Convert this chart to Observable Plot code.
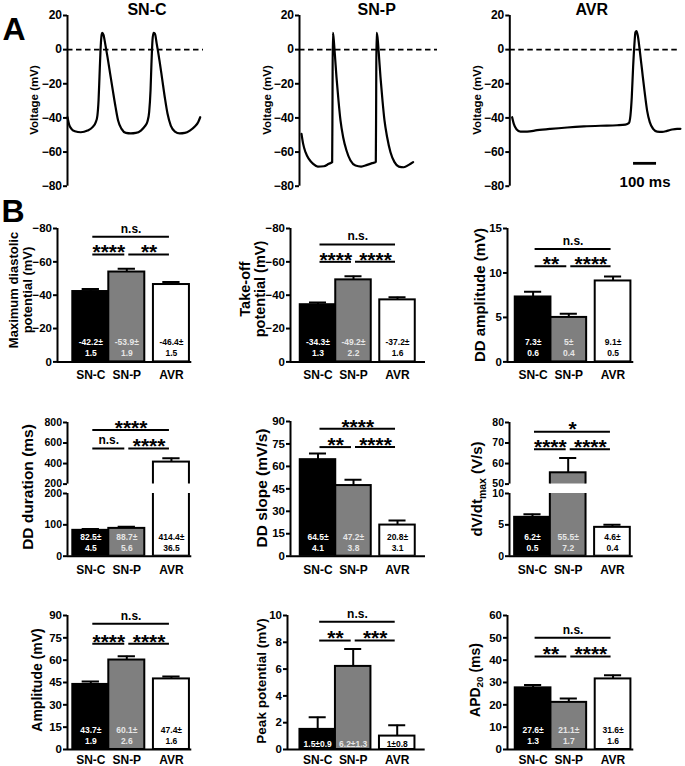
<!DOCTYPE html>
<html><head><meta charset="utf-8">
<script src="https://cdn.jsdelivr.net/npm/d3@7"></script>
<script src="https://cdn.jsdelivr.net/npm/@observablehq/plot@0.6"></script>
<style>
html,body{margin:0;padding:0;background:#fff;}
#fig{position:relative;width:685px;height:766px;overflow:hidden;background:#fff;font-family:"Liberation Sans",Arial,Helvetica,sans-serif;font-weight:bold;color:#000;}
#fig svg{position:absolute;overflow:visible;background:transparent;}
.t{position:absolute;white-space:nowrap;text-align:center;transform:translate(-50%,-50%);}
.v{position:absolute;white-space:nowrap;text-align:center;transform:translate(-50%,-50%) rotate(-90deg);}
sub{font-size:70%;vertical-align:-0.3em;line-height:0;}
</style></head><body><div id="fig"></div>
<script>
// ---------------- data ----------------
const groups = ["SN-C", "SN-P", "AVR"];
const groupFill = ["#000000", "#7f7f7f", "#ffffff"];
const groupTextColor = ["#ffffff", "#e6e6e6", "#000000"];

// Panel A: action potential traces, [time (ms), voltage (mV)]
const traceSNC = [[0,-39.6],[7,-43.9],[17,-46.4],[32,-47.8],[58,-48.4],[87,-47.4],[109,-45.4],[123,-42.5],[130,-38.6],[135,-29.8],[139,-16.1],[143.5,-0.5],[148,8.3],[151,9.8],[156.5,8.7],[164,3.4],[174,-4.4],[185.5,-14.2],[197,-23.9],[209,-33.7],[220,-41.5],[235,-46.4],[254,-48.8],[275,-49.1],[297,-48.8],[319,-47.4],[336,-45],[348,-41.9],[355,-36.6],[361,-23.9],[365,-8.3],[369.5,5.4],[374,9.8],[380,9.3],[388,3.4],[400,-6.4],[411.5,-17.1],[423,-27.9],[435,-37.6],[449,-44.5],[467,-48],[488,-49.1],[510,-48.8],[532,-47.4],[553.5,-45],[568,-42.5],[577,-39.6]];
const traceSNP = [[8.7,-49.3],[15.9,-55.2],[26.1,-60.1],[40.6,-64],[59.4,-66.9],[79.7,-68.5],[105.8,-68.3],[127.5,-66.9],[142,-65.9],[143.5,-29.8],[144.9,9.8],[147.8,7.3],[153.6,-2.5],[160.8,-16.1],[169.5,-29.8],[178.2,-41.5],[189.8,-51.3],[204.3,-59.1],[221.7,-65],[243.4,-67.9],[268.1,-68.5],[294.1,-67.5],[315.9,-66.5],[331.8,-65.7],[333.3,-29.8],[334.7,9.8],[339.1,7.3],[344.9,-2.5],[352.1,-16.1],[360.8,-29.8],[369.5,-41.5],[381.1,-51.3],[395.6,-60.1],[413,-65.9],[431.8,-68.5],[453.5,-68.9],[475.3,-67.5],[494.1,-65.9]];
const traceAVR = [[10.1,-39.6],[17.4,-43.5],[29,-46.6],[46.4,-48],[75.3,-48],[118.8,-47.2],[176.8,-46.4],[249.2,-45.6],[321.7,-45],[394.1,-44.6],[466.6,-44.3],[502.8,-43.9],[517.3,-43.1],[524.5,-38.6],[530.3,-27.9],[536.1,-10.3],[541.9,3.4],[546.3,10.2],[550.6,10.8],[556.4,8.3],[565.1,-0.5],[575.2,-12.2],[585.4,-23.9],[597,-35.7],[608.6,-42.5],[623.1,-46.4],[640.5,-48],[662.2,-48.2],[683.9,-47.6],[705.7,-46.8],[727.4,-46.4],[741.9,-46.4]];
const voltageTicks = [-80, -60, -40, -20, 0, 20];
const scaleBarMs = 100;          // length of the time scale bar
const scaleBarStartMs = 538;
const scaleBarVoltage = -66.6;

// Panel B: mean ± SEM for SN-C, SN-P, AVR; comparisons [groupA, groupB, label, bracket level]
const mdpMean = [-42.2, -53.9, -46.4], mdpSem = [1.5, 1.9, 1.5];
const mdpSig = [["SN-C","SN-P","****",-64.4],["SN-P","AVR","**",-64.4],["SN-C","AVR","n.s.",-75]];
const mdpTicks = [0, -20, -40, -60, -80];

const topMean = [-34.3, -49.2, -37.2], topSem = [1.3, 2.2, 1.6];
const topSig = [["SN-C","SN-P","****",-60],["SN-P","AVR","****",-60],["SN-C","AVR","n.s.",-70.4]];
const topTicks = [0, -20, -40, -60, -80];

const ddAmpMean = [7.3, 5, 9.1], ddAmpSem = [0.6, 0.4, 0.5];
const ddAmpSig = [["SN-C","SN-P","**",10.76],["SN-P","AVR","****",10.76],["SN-C","AVR","n.s.",12.7]];
const ddAmpTicks = [0, 5, 10, 15];

const ddDurMean = [82.5, 88.7, 414.4], ddDurSem = [4.5, 5.6, 36.5];
const ddDurSig = [["SN-C","SN-P","n.s.",547],["SN-P","AVR","****",547],["SN-C","AVR","****",726]];
const ddDurTicksUpper = [200, 400, 600, 800], ddDurTicksLower = [0, 100, 200];

const ddSlopeMean = [64.5, 47.2, 20.8], ddSlopeSem = [4.1, 3.8, 3.1];
const ddSlopeSig = [["SN-C","SN-P","**",72.9],["SN-P","AVR","****",72.9],["SN-C","AVR","****",85.1]];
const ddSlopeTicks = [0, 15, 30, 45, 60, 75, 90];

const dvdtMean = [6.2, 55.5, 4.6], dvdtSem = [0.5, 7.2, 0.4];
const dvdtSig = [["SN-C","SN-P","****",67],["SN-P","AVR","****",67],["SN-C","AVR","*",75.5]];
const dvdtTicksUpper = [50, 60, 70, 80], dvdtTicksLower = [0, 5, 10];

const ampMean = [43.7, 60.1, 47.4], ampSem = [1.9, 2.6, 1.6];
const ampSig = [["SN-C","SN-P","****",71],["SN-P","AVR","****",71],["SN-C","AVR","n.s.",84.4]];
const ampTicks = [0, 15, 30, 45, 60, 75, 90];

const peakMean = [1.5, 6.2, 1], peakSem = [0.9, 1.3, 0.8];
const peakSig = [["SN-C","SN-P","**",8.13],["SN-P","AVR","***",8.13],["SN-C","AVR","n.s.",9.53]];
const peakTicks = [0, 2, 4, 6, 8, 10];

const apdMean = [27.6, 21.1, 31.6], apdSem = [1.3, 1.7, 1.6];
const apdSig = [["SN-C","SN-P","**",41.6],["SN-P","AVR","****",41.6],["SN-C","AVR","n.s.",50]];
const apdTicks = [0, 10, 20, 30, 40, 50, 60];

// ---------------- layout helpers ----------------
const fig = document.getElementById("fig");
const FONT = "'Liberation Sans',Arial,Helvetica,sans-serif";
const STYLE = `font-family:${FONT};font-weight:bold;font-size:11px;overflow:visible;background:transparent;`;
const PX_PER_MS = 23 / 100;

function place(svg, left, top) {
  svg.style.position = "absolute";
  svg.style.left = left + "px";
  svg.style.top = top + "px";
  fig.appendChild(svg);
}
function label(cls, x, y, html, size, lh) {
  const d = document.createElement("div");
  d.className = cls;
  d.style.left = x + "px";
  d.style.top = y + "px";
  d.style.fontSize = size + "px";
  d.style.lineHeight = lh || "1.15";
  d.innerHTML = html;
  fig.appendChild(d);
}

// ---------------- Panel A ----------------
function trace(data, left, axis, right, extra) {
  const domMax = (right - axis) / PX_PER_MS;
  const svg = Plot.plot({
    width: right - left + 6, height: 195,
    marginLeft: axis - left, marginRight: 6, marginTop: 15, marginBottom: 9.3,
    x: {domain: [0, domMax], axis: null},
    y: {domain: [-80, 20], axis: null},
    style: STYLE,
    marks: [
      Plot.ruleY([0], {strokeDasharray: "5.5,3.5", strokeWidth: 1.6}),
      Plot.line(data, {x: d => d[0], y: d => d[1], strokeWidth: 2.2, curve: "monotone-x", strokeLinejoin: "round"}),
      Plot.ruleX([0], {y1: -80, y2: 20, strokeWidth: 2}),
      Plot.axisY({ticks: voltageTicks, tickSize: 4, tickPadding: 1.5, strokeWidth: 2, fontSize: 12, label: null}),
      ...(extra || [])
    ]
  });
  place(svg, left, 0);
}
trace(traceSNC, 0, 67, 203);
trace(traceSNP, 230, 299, 437);
trace(traceAVR, 460, 509.3, 680, [
  Plot.ruleY([scaleBarVoltage], {x1: scaleBarStartMs, x2: scaleBarStartMs + scaleBarMs, strokeWidth: 2.8}),
  Plot.text([scaleBarMs + " ms"], {x: scaleBarStartMs + scaleBarMs / 2, y: scaleBarVoltage, dy: 19, fontSize: 15})
]);
label("t", 14, 29, "A", 32);
label("t", 147, 10, "SN-C", 16);
label("t", 376.7, 10, "SN-P", 16);
label("t", 591.7, 10, "AVR", 16);
label("v", 35, 100, "Voltage (mV)", 11.5);
label("v", 268, 100, "Voltage (mV)", 11.5);
label("v", 478.3, 100, "Voltage (mV)", 11.5);

// ---------------- Panel B ----------------
const barPos = [0, 1, 2.24];
const gi = n => groups.indexOf(n);
const idx = [0, 1, 2];

function barChart(c) {
  const x0 = (c.axis - c.col.c0) / c.col.unit;
  const x1 = (c.col.end - c.col.c0) / c.col.unit;
  const tip = i => c.mean[i] + Math.sign(c.mean[i]) * c.sem[i];
  const broken = c.segs.length > 1;
  c.segs.forEach((s, k) => {
    const first = k === 0, last = k === c.segs.length - 1;
    const left = c.axis - 60, top = s.top - 34;
    const marks = [
      Plot.rectY(idx, {x1: i => barPos[i] - 0.5, x2: i => barPos[i] + 0.5, y1: 0, y2: i => c.mean[i],
        fill: i => groupFill[i], stroke: "#000", strokeWidth: 2, clip: true}),
      Plot.ruleX(idx, {x: i => barPos[i], y1: i => c.mean[i], y2: tip, strokeWidth: 2, clip: true}),
      Plot.ruleY(idx, {y: tip, x1: i => barPos[i] - 0.24, x2: i => barPos[i] + 0.24, strokeWidth: 2, clip: true}),
      Plot.ruleX([x0], {y1: s.domain[0], y2: s.domain[1], strokeWidth: 2}),
      Plot.axisY({ticks: s.ticks, tickSize: 4, tickPadding: 1.5, strokeWidth: 2, fontSize: broken ? 10.5 : 11.5, label: null})
    ];
    if (last) {
      marks.push(
        Plot.ruleY([s.domain[0]], {x1: x0, x2: x1, strokeWidth: 2}),
        Plot.text(idx, {x: i => barPos[i], y: s.domain[0], text: i => groups[i], dy: c.catDy || 13.5, fontSize: 12}),
        Plot.text(idx, {x: i => barPos[i], y: s.domain[0],
          text: i => c.oneLine ? `${c.mean[i]}±${c.sem[i]}` : `${c.mean[i]}±\n${c.sem[i]}`,
          fill: i => groupTextColor[i], fontSize: 8.5, lineHeight: 1.3, dy: c.oneLine ? -6 : -14.5})
      );
    }
    if (first) {
      const xa = d => barPos[gi(d[0])], xb = d => barPos[gi(d[1])];
      marks.push(
        Plot.ruleY(c.sig, {y: d => d[3], x1: xa, x2: xb, strokeWidth: 2, insetLeft: 2, insetRight: 2}),
        Plot.text(c.sig.filter(d => d[2] !== "n.s."), {x: d => (xa(d) + xb(d)) / 2, y: d => d[3], text: d => d[2], fontSize: 21, dy: -2}),
        Plot.text(c.sig.filter(d => d[2] === "n.s."), {x: d => (xa(d) + xb(d)) / 2, y: d => d[3], text: d => d[2], fontSize: 12, dy: -8})
      );
    }
    const svg = Plot.plot({
      width: c.col.end + 8 - left, height: s.bottom + 26 - top,
      marginLeft: 60, marginRight: 8, marginTop: 34, marginBottom: 26,
      x: {domain: [x0, x1], axis: null},
      y: {domain: s.domain, axis: null},
      color: {type: "identity"},
      style: STYLE,
      marks
    });
    place(svg, left, top);
  });
  label("v", c.lab[0], c.lab[1], c.label, c.lab[2], c.lab[3]);
}

const col1 = {c0: 90, unit: 36, end: 191};
const col2 = {c0: 317.5, unit: 35.5, end: 425};
const col3 = {c0: 532.3, unit: 35.7, end: 633};

barChart({col: col1, axis: 56.7, mean: mdpMean, sem: mdpSem, sig: mdpSig,
  segs: [{domain: [0, -80], ticks: mdpTicks, top: 228.3, bottom: 361.7}],
  label: "Maximum diastolic<br>potential (mV)", lab: [20, 290, 13, "13.5px"]});
barChart({col: col2, axis: 290, mean: topMean, sem: topSem, sig: topSig,
  segs: [{domain: [0, -80], ticks: topTicks, top: 228.3, bottom: 361.7}],
  label: "Take-off<br>potential (mV)", lab: [252.5, 289, 14.5, "15px"]});
barChart({col: col3, axis: 506.7, mean: ddAmpMean, sem: ddAmpSem, sig: ddAmpSig,
  segs: [{domain: [0, 15], ticks: ddAmpTicks, top: 228.3, bottom: 361.7}],
  label: "DD amplitude (mV)", lab: [480, 295, 15]});

barChart({col: col1, axis: 66.7, mean: ddDurMean, sem: ddDurSem, sig: ddDurSig,
  segs: [{domain: [200, 800], ticks: ddDurTicksUpper, top: 421.7, bottom: 483.3},
         {domain: [0, 200], ticks: ddDurTicksLower, top: 493.3, bottom: 556}],
  label: "DD duration (ms)", lab: [28, 487, 15.5]});
barChart({col: col2, axis: 290, mean: ddSlopeMean, sem: ddSlopeSem, sig: ddSlopeSig,
  segs: [{domain: [0, 90], ticks: ddSlopeTicks, top: 421.3, bottom: 556}],
  label: "DD slope (mV/s)", lab: [261.7, 487.5, 15.5]});
barChart({col: col3, axis: 509.3, mean: dvdtMean, sem: dvdtSem, sig: dvdtSig,
  segs: [{domain: [50, 80], ticks: dvdtTicksUpper, top: 421.7, bottom: 483.3},
         {domain: [0, 10], ticks: dvdtTicksLower, top: 493.3, bottom: 556}],
  label: "dV/dt<sub>max</sub> (V/s)", lab: [476.7, 489, 15]});

barChart({col: col1, axis: 66.7, mean: ampMean, sem: ampSem, sig: ampSig, catDy: 10.5,
  segs: [{domain: [0, 90], ticks: ampTicks, top: 615, bottom: 749}],
  label: "Amplitude (mV)", lab: [36.7, 680, 14]});
barChart({col: col2, axis: 287.3, mean: peakMean, sem: peakSem, sig: peakSig, oneLine: true, catDy: 10.5,
  segs: [{domain: [0, 10], ticks: peakTicks, top: 615, bottom: 749}],
  label: "Peak potential (mV)", lab: [261.7, 681, 13.5]});
barChart({col: col3, axis: 506.7, mean: apdMean, sem: apdSem, sig: apdSig, catDy: 10.5,
  segs: [{domain: [0, 60], ticks: apdTicks, top: 615, bottom: 749}],
  label: "APD<sub>20</sub> (ms)", lab: [475, 680, 14]});

label("t", 13, 211, "B", 32);
</script>
</body></html>
